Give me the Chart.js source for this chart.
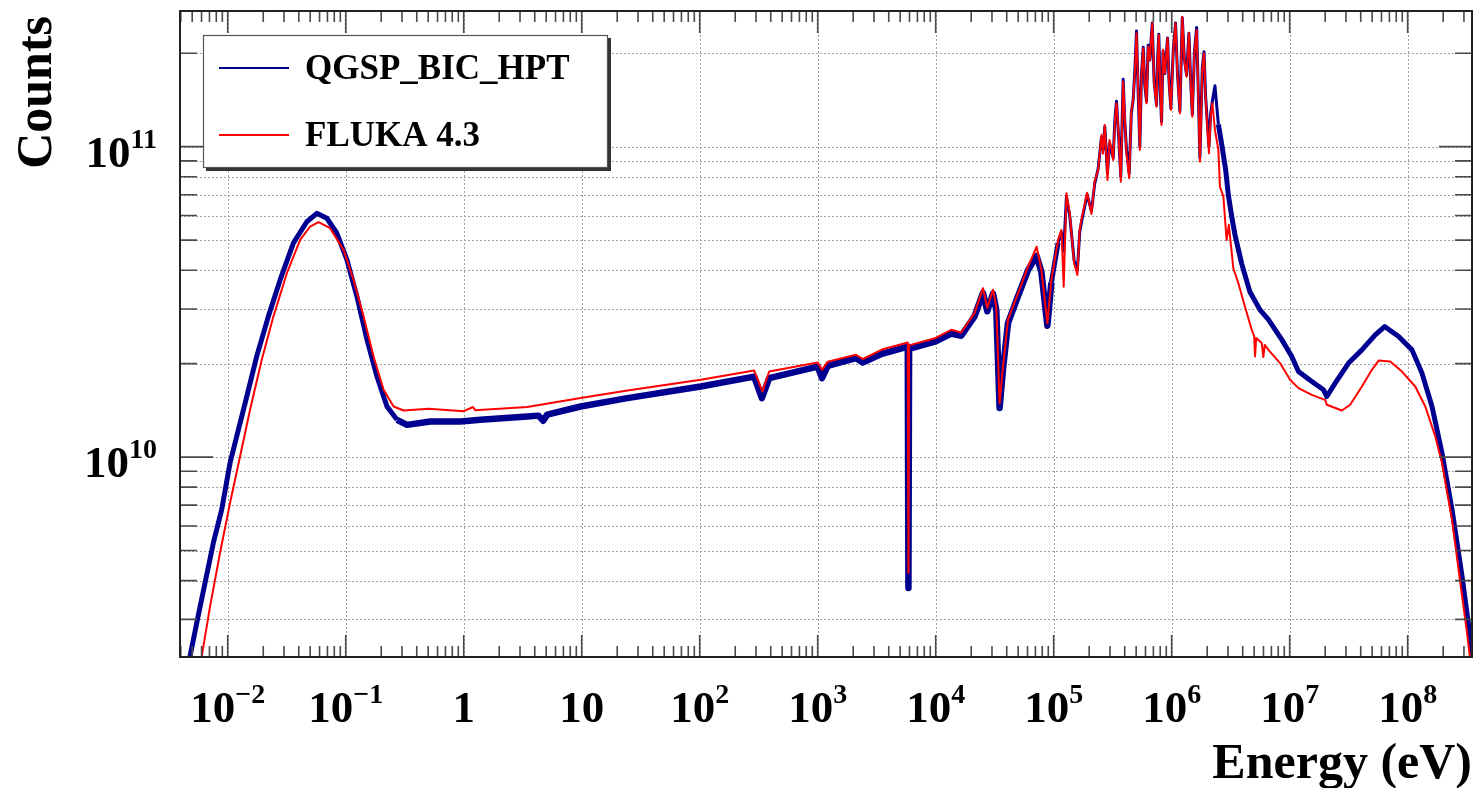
<!DOCTYPE html>
<html>
<head>
<meta charset="utf-8">
<script src="https://cdn.jsdelivr.net/npm/chart.js@4.4.1/dist/chart.umd.min.js"></script>
<style>
  html, body { margin: 0; padding: 0; background: #ffffff; }
  canvas { display: block; }
</style>
</head>
<body>
<canvas id="spectrum" width="1476" height="788"></canvas>
<script>
// Neutron energy spectrum: counts per bin versus energy (eV), two physics models.

// ---- QGSP_BIC_HPT (Geant4) ----
const energyQGSP = [
  3.9e-3, 4.79e-3, 5.46e-3, 6.42e-3, 7.55e-3, 8.89e-3, 1.046e-2, 1.23e-2, 1.45e-2, 1.76e-2,
  2.21e-2, 2.78e-2, 3.60e-2, 4.68e-2, 5.69e-2, 6.92e-2, 8.42e-2, 0.1024, 0.1245, 0.1514,
  0.184, 0.2237, 0.272, 0.3307, 0.5217, 0.938, 1.386, 3.45, 4.3, 4.72,
  5.1, 9.79, 24.4, 102, 289.5, 336.6, 388, 1000, 1088, 1216,
  2114, 2410, 3500, 5800, 5875, 5950, 1.0e4, 1.354e4, 1.646e4, 2.135e4,
  2.516e4, 2.736e4, 3.059e4, 3.263e4, 3.48e4, 3.72e4, 4.10e4, 4.985e4, 6.063e4, 7.174e4,
  7.865e4, 8.84e4, 9.56e4, 1.09e5, 1.163e5, 1.216e5, 1.282e5, 1.367e5, 1.490e5, 1.589e5,
  1.662e5, 1.718e5, 1.92e5, 2.09e5, 2.228e5, 2.382e5, 2.54e5, 2.62e5, 2.71e5, 2.857e5,
  2.97e5, 3.09e5, 3.194e5, 3.3e5, 3.406e5, 3.55e5, 3.705e5, 3.88e5, 4.0e5, 4.14e5,
  4.365e5, 4.55e5, 4.72e5, 4.88e5, 5.035e5, 5.2e5, 5.37e5, 5.55e5, 5.74e5, 5.92e5,
  6.12e5, 6.32e5, 6.53e5, 6.845e5, 7.1e5, 7.44e5, 7.6e5, 7.78e5, 8.0e5, 8.21e5,
  8.45e5, 8.757e5, 9.23e5, 9.5e5, 9.84e5, 1.03e6, 1.079e6, 1.12e6, 1.174e6, 1.23e6,
  1.28e6, 1.338e6, 1.40e6, 1.45e6, 1.496e6, 1.56e6, 1.627e6, 1.68e6, 1.735e6, 1.818e6,
  1.88e6, 1.94e6, 2.07e6, 2.14e6, 2.212e6, 2.327e6, 2.487e6, 2.652e6, 2.87e6, 3.02e6,
  3.24e6, 3.44e6, 3.92e6, 4.61e6, 5.61e6, 6.61e6, 8.57e6, 1.042e7, 1.188e7, 1.541e7,
  1.936e7, 2.065e7, 2.43e7, 3.156e7, 4.094e7, 5.31e7, 6.38e7, 8.39e7, 1.088e8, 1.322e8,
  1.608e8, 1.955e8, 2.377e8, 2.89e8, 3.294e8, 3.5e8, 3.7e8
];
const countsQGSP = [
  1.2e9, 2.28e9, 2.92e9, 3.93e9, 5.29e9, 6.77e9, 9.57e9, 1.224e10, 1.567e10, 2.11e10,
  2.84e10, 3.72e10, 4.89e10, 5.73e10, 6.10e10, 5.88e10, 5.26e10, 4.32e10, 3.29e10, 2.39e10,
  1.817e10, 1.455e10, 1.318e10, 1.27e10, 1.302e10, 1.302e10, 1.318e10, 1.351e10, 1.36e10, 1.31e10,
  1.37e10, 1.455e10, 1.549e10, 1.688e10, 1.817e10, 1.549e10, 1.796e10, 1.957e10, 1.796e10, 1.967e10,
  2.083e10, 2.017e10, 2.15e10, 2.27e10, 3.79e9, 2.23e10, 2.36e10, 2.50e10, 2.46e10, 2.84e10,
  3.38e10, 2.95e10, 3.36e10, 2.98e10, 1.44e10, 1.92e10, 2.70e10, 3.30e10, 4.00e10, 4.45e10,
  3.95e10, 2.65e10, 3.65e10, 4.9e10, 5.3e10, 4.6e10, 6.9e10, 6.0e10, 4.3e10, 4.0e10,
  5.3e10, 5.7e10, 7.0e10, 6.2e10, 7.6e10, 8.5e10, 1.07e11, 9.8e10, 1.16e11, 8.2e10,
  1.02e11, 9.7e10, 9.2e10, 1.22e11, 1.40e11, 1.08e11, 8.0e10, 1.65e11, 1.22e11, 9.8e10,
  8.2e10, 1.28e11, 1.42e11, 1.78e11, 2.36e11, 1.50e11, 1.0e11, 1.72e11, 2.09e11, 1.58e11,
  1.40e11, 2.12e11, 1.90e11, 2.50e11, 1.62e11, 1.36e11, 1.92e11, 2.30e11, 1.52e11, 1.20e11,
  2.03e11, 1.72e11, 2.24e11, 1.62e11, 1.33e11, 2.02e11, 2.50e11, 1.72e11, 1.30e11, 2.60e11,
  1.92e11, 1.70e11, 2.32e11, 1.62e11, 1.27e11, 2.02e11, 2.42e11, 1.52e11, 9.2e10, 1.80e11,
  2.02e11, 1.45e11, 1.0e11, 1.28e11, 1.40e11, 1.57e11, 1.18e11, 1.02e11, 8.4e10, 7.0e10,
  5.9e10, 5.2e10, 4.2e10, 3.40e10, 2.98e10, 2.77e10, 2.39e10, 2.11e10, 1.886e10, 1.752e10,
  1.647e10, 1.567e10, 1.731e10, 2.008e10, 2.215e10, 2.476e10, 2.633e10, 2.445e10, 2.215e10, 1.864e10,
  1.455e10, 1.03e10, 6.77e9, 4.13e9, 2.85e9, 2.28e9, 1.5e9
];

// ---- FLUKA 4.3 ----
const energyFLUKA = [
  4.0e-3, 6.02e-3, 7.08e-3, 8.60e-3, 1.046e-2, 1.272e-2, 1.546e-2, 1.943e-2, 2.44e-2, 3.17e-2,
  4.11e-2, 4.99e-2, 5.88e-2, 7.38e-2, 9.58e-2, 0.1165, 0.1416, 0.1722, 0.2094, 0.2545,
  0.3095, 0.5046, 1.0, 1.2, 1.25, 3.45, 9.79, 24.4, 102, 289.5,
  341, 388, 1000, 1088, 1216, 2114, 2410, 3500, 5800, 5875,
  5950, 1.0e4, 1.354e4, 1.646e4, 2.135e4, 2.516e4, 2.736e4, 3.059e4, 3.263e4, 3.48e4,
  3.72e4, 4.10e4, 4.985e4, 6.063e4, 7.174e4, 7.865e4, 8.84e4, 9.56e4, 1.09e5, 1.163e5,
  1.216e5, 1.282e5, 1.367e5, 1.490e5, 1.589e5, 1.662e5, 1.718e5, 1.92e5, 2.09e5, 2.228e5,
  2.382e5, 2.54e5, 2.62e5, 2.71e5, 2.857e5, 2.97e5, 3.09e5, 3.194e5, 3.3e5, 3.406e5,
  3.55e5, 3.705e5, 3.88e5, 4.0e5, 4.14e5, 4.365e5, 4.55e5, 4.72e5, 4.88e5, 5.035e5,
  5.2e5, 5.37e5, 5.55e5, 5.74e5, 5.92e5, 6.12e5, 6.32e5, 6.53e5, 6.845e5, 7.1e5,
  7.44e5, 7.6e5, 7.78e5, 8.0e5, 8.21e5, 8.45e5, 8.757e5, 9.23e5, 9.5e5, 9.84e5,
  1.03e6, 1.079e6, 1.12e6, 1.174e6, 1.23e6, 1.28e6, 1.338e6, 1.40e6, 1.45e6, 1.496e6,
  1.56e6, 1.627e6, 1.68e6, 1.735e6, 1.818e6, 1.88e6, 1.94e6, 2.07e6, 2.14e6, 2.212e6,
  2.327e6, 2.487e6, 2.566e6, 2.742e6, 2.924e6, 3.05e6, 3.333e6, 3.676e6, 4.18e6, 4.77e6,
  5.0e6, 5.09e6, 5.2e6, 5.80e6, 5.98e6, 6.15e6, 6.61e6, 8.29e6, 1.008e7, 1.188e7,
  1.541e7, 1.998e7, 2.065e7, 2.77e7, 3.256e7, 4.094e7, 4.975e7, 5.672e7, 7.116e7, 8.947e7,
  1.16e8, 1.411e8, 1.715e8, 1.955e8, 2.377e8, 2.796e8, 3.187e8, 3.40e8, 3.6e8
];
const countsFLUKA = [
  1.0e9, 2.28e9, 3.30e9, 4.91e9, 7.11e9, 1.004e10, 1.42e10, 2.06e10, 2.84e10, 3.91e10,
  5.01e10, 5.53e10, 5.71e10, 5.46e10, 4.65e10, 3.72e10, 2.84e10, 2.11e10, 1.647e10, 1.455e10,
  1.413e10, 1.431e10, 1.406e10, 1.45e10, 1.415e10, 1.449e10, 1.549e10, 1.638e10, 1.774e10, 1.90e10,
  1.626e10, 1.886e10, 2.017e10, 1.91e10, 2.03e10, 2.135e10, 2.07e10, 2.22e10, 2.34e10, 4.23e9,
  2.29e10, 2.42e10, 2.57e10, 2.52e10, 2.91e10, 3.50e10, 3.02e10, 3.46e10, 3.05e10, 1.49e10,
  1.96e10, 2.77e10, 3.37e10, 4.11e10, 4.76e10, 4.01e10, 2.70e10, 3.72e10, 5.01e10, 5.39e10,
  3.54e10, 7.08e10, 6.10e10, 4.21e10, 3.86e10, 5.39e10, 5.81e10, 7.1e10, 6.07e10, 7.76e10,
  8.41e10, 1.09e11, 9.5e10, 1.175e11, 7.81e10, 1.05e11, 9.88e10, 9.06e10, 1.20e11, 1.379e11,
  1.10e11, 7.71e10, 1.62e11, 1.25e11, 9.52e10, 7.91e10, 1.30e11, 1.414e11, 1.75e11, 2.318e11,
  1.55e11, 9.76e10, 1.70e11, 2.074e11, 1.60e11, 1.379e11, 2.10e11, 1.902e11, 2.496e11, 1.60e11,
  1.345e11, 1.90e11, 2.289e11, 1.55e11, 1.175e11, 2.05e11, 1.723e11, 2.234e11, 1.60e11, 1.313e11,
  2.0e11, 2.496e11, 1.70e11, 1.281e11, 2.62e11, 1.90e11, 1.68e11, 2.318e11, 1.60e11, 1.249e11,
  2.0e11, 2.375e11, 1.50e11, 8.95e10, 1.766e11, 2.0e11, 1.431e11, 9.52e10, 1.25e11, 1.379e11,
  1.132e11, 9.76e10, 7.43e10, 6.90e10, 5.0e10, 5.6e10, 4.05e10, 3.63e10, 3.05e10, 2.57e10,
  2.45e10, 2.11e10, 2.42e10, 2.33e10, 2.10e10, 2.30e10, 2.215e10, 2.008e10, 1.774e10, 1.668e10,
  1.587e10, 1.529e10, 1.474e10, 1.413e10, 1.474e10, 1.688e10, 1.91e10, 2.046e10, 2.032e10, 1.886e10,
  1.688e10, 1.455e10, 1.165e10, 9.57e9, 6.28e9, 3.93e9, 2.71e9, 2.2e9, 1.5e9
];

// ---- axes ----
const energyRange = [3.94e-3, 3.51e8];
const countsRange = [2.27e9, 2.735e11];
const xTickValues = [1e-2, 1e-1, 1, 10, 1e2, 1e3, 1e4, 1e5, 1e6, 1e7, 1e8];
const xTickLabels = [
  ["10", "\u22122"], ["10", "\u22121"], ["1", ""], ["10", ""], ["10", "2"], ["10", "3"],
  ["10", "4"], ["10", "5"], ["10", "6"], ["10", "7"], ["10", "8"]
];
const yTickValues = [1e10, 1e11];
const yTickLabels = [["10", "10"], ["10", "11"]];
const xTitle = "Energy (eV)";
const yTitle = "Counts";

const BLUE = "#000090";
const RED = "#ff0000";
const SERIF = '"Liberation Serif", "DejaVu Serif", serif';

function toPoints(xs, ys) {
  return xs.map((e, i) => ({ x: e, y: ys[i] }));
}

// minor tick positions (2..9 x 10^n) inside a log range
function logMinors(lo, hi) {
  const out = [];
  for (let d = Math.floor(Math.log10(lo)) - 1; d <= Math.ceil(Math.log10(hi)); d++) {
    for (let m = 2; m <= 9; m++) {
      const v = m * Math.pow(10, d);
      if (v >= lo && v <= hi) out.push(v);
    }
  }
  return out;
}

function drawPowerLabel(ctx, pair, x, baseline, align) {
  const [base, sup] = pair;
  ctx.font = "bold 45px " + SERIF;
  const wb = ctx.measureText(base).width;
  ctx.font = "bold 28px " + SERIF;
  const ws = sup ? ctx.measureText(sup).width : 0;
  const total = wb + ws;
  const left = align === "center" ? x - total / 2 : x - total;
  ctx.textAlign = "left";
  ctx.textBaseline = "alphabetic";
  ctx.font = "bold 45px " + SERIF;
  ctx.fillText(base, left, baseline);
  if (sup) {
    ctx.font = "bold 28px " + SERIF;
    ctx.fillText(sup, left + wb, baseline - 19);
  }
}

const rootStyleFrame = {
  id: "rootStyleFrame",
  beforeDatasetsDraw(chart) {
    const { ctx, chartArea: a, scales: { x, y } } = chart;
    ctx.save();
    ctx.strokeStyle = "#a0a0a0";
    ctx.lineWidth = 1;
    ctx.setLineDash([2, 2]);
    ctx.beginPath();
    xTickValues.forEach(v => {
      const px = Math.round(x.getPixelForValue(v)) + 0.5;
      ctx.moveTo(px, a.top); ctx.lineTo(px, a.bottom);
    });
    const yGrid = yTickValues.concat(logMinors(countsRange[0], countsRange[1]));
    yGrid.forEach(v => {
      const py = Math.round(y.getPixelForValue(v)) + 0.5;
      ctx.moveTo(a.left, py); ctx.lineTo(a.right, py);
    });
    ctx.stroke();
    ctx.restore();
  },
  afterDatasetsDraw(chart) {
    const { ctx, chartArea: a, scales: { x, y } } = chart;
    ctx.save();

    // tick marks, pointing into the frame on all four sides
    ctx.strokeStyle = "#4a4a4a";
    ctx.lineWidth = 1.6;
    ctx.beginPath();
    const xm = logMinors(energyRange[0], energyRange[1]);
    xTickValues.forEach(v => {
      const px = x.getPixelForValue(v);
      ctx.moveTo(px, a.bottom); ctx.lineTo(px, a.bottom - 22);
      ctx.moveTo(px, a.top); ctx.lineTo(px, a.top + 22);
    });
    xm.forEach(v => {
      const px = x.getPixelForValue(v);
      ctx.moveTo(px, a.bottom); ctx.lineTo(px, a.bottom - 11);
      ctx.moveTo(px, a.top); ctx.lineTo(px, a.top + 11);
    });
    const ym = logMinors(countsRange[0], countsRange[1]);
    yTickValues.forEach(v => {
      const py = y.getPixelForValue(v);
      ctx.moveTo(a.left, py); ctx.lineTo(a.left + 33, py);
      ctx.moveTo(a.right, py); ctx.lineTo(a.right - 33, py);
    });
    ym.forEach(v => {
      const py = y.getPixelForValue(v);
      ctx.moveTo(a.left, py); ctx.lineTo(a.left + 17, py);
      ctx.moveTo(a.right, py); ctx.lineTo(a.right - 17, py);
    });
    ctx.stroke();

    // frame
    ctx.strokeStyle = "#222222";
    ctx.lineWidth = 2;
    ctx.strokeRect(a.left, a.top, a.right - a.left, a.bottom - a.top);

    // tick labels
    ctx.fillStyle = "#000000";
    xTickValues.forEach((v, i) => {
      drawPowerLabel(ctx, xTickLabels[i], x.getPixelForValue(v), a.bottom + 65, "center");
    });
    yTickValues.forEach((v, i) => {
      drawPowerLabel(ctx, yTickLabels[i], a.left - 23, y.getPixelForValue(v) + 20, "right");
    });

    // axis titles
    ctx.font = "bold 50px " + SERIF;
    ctx.textAlign = "right";
    ctx.textBaseline = "alphabetic";
    ctx.fillText(xTitle, a.right, 778);
    ctx.save();
    ctx.translate(51, 16);
    ctx.rotate(-Math.PI / 2);
    ctx.fillText(yTitle, 0, 0);
    ctx.restore();

    // legend box with shadow
    const lx = 203, ly = 35, lw = 405, lh = 133;
    ctx.fillStyle = "#333333";
    ctx.fillRect(lx + 3, ly + 3, lw, lh);
    ctx.fillStyle = "#ffffff";
    ctx.fillRect(lx, ly, lw, lh);
    ctx.strokeStyle = "#555555";
    ctx.lineWidth = 1.2;
    ctx.strokeRect(lx + 0.5, ly + 0.5, lw - 1, lh - 1);
    const rows = [68, 135];
    chart.data.datasets.slice().sort((p, q) => q.order - p.order).forEach((ds, i) => {
      ctx.strokeStyle = ds.borderColor;
      ctx.lineWidth = 2;
      ctx.beginPath();
      ctx.moveTo(219, rows[i]); ctx.lineTo(289, rows[i]);
      ctx.stroke();
      ctx.fillStyle = "#000000";
      ctx.font = "bold 35px " + SERIF;
      ctx.textAlign = "left";
      ctx.textBaseline = "middle";
      ctx.fillText(ds.label, 305, rows[i] + 2);
    });

    ctx.restore();
  }
};

// the Geant4 line is drawn wider where its bin-to-bin scatter forms a band
function qgspWidth(seg) {
  const e0 = seg.p0.parsed.x, e1 = seg.p1.parsed.x;
  if (e0 >= 1.05e5 && e1 <= 2.6e6) return 3;
  if (e0 >= 0.25 && e1 <= 1.05e5) return 6.5;
  return 5;
}

new Chart(document.getElementById("spectrum").getContext("2d"), {
  type: "line",
  data: {
    datasets: [
      {
        label: "QGSP_BIC_HPT",
        data: toPoints(energyQGSP, countsQGSP),
        borderColor: BLUE,
        borderWidth: 5,
        segment: { borderWidth: qgspWidth },
        borderJoinStyle: "round",
        pointRadius: 0,
        tension: 0,
        fill: false,
        order: 2,
        clip: 0
      },
      {
        label: "FLUKA 4.3",
        data: toPoints(energyFLUKA, countsFLUKA),
        borderColor: RED,
        borderWidth: 2,
        borderJoinStyle: "round",
        pointRadius: 0,
        tension: 0,
        fill: false,
        order: 1,
        clip: 0
      }
    ]
  },
  options: {
    responsive: false,
    animation: false,
    devicePixelRatio: 1,
    layout: { padding: { left: 180, right: 4, top: 11, bottom: 131 } },
    scales: {
      x: { type: "logarithmic", min: energyRange[0], max: energyRange[1], display: false },
      y: { type: "logarithmic", min: countsRange[0], max: countsRange[1], display: false }
    },
    plugins: { legend: { display: false }, tooltip: { enabled: false } },
    events: []
  },
  plugins: [rootStyleFrame]
});
</script>
</body>
</html>
